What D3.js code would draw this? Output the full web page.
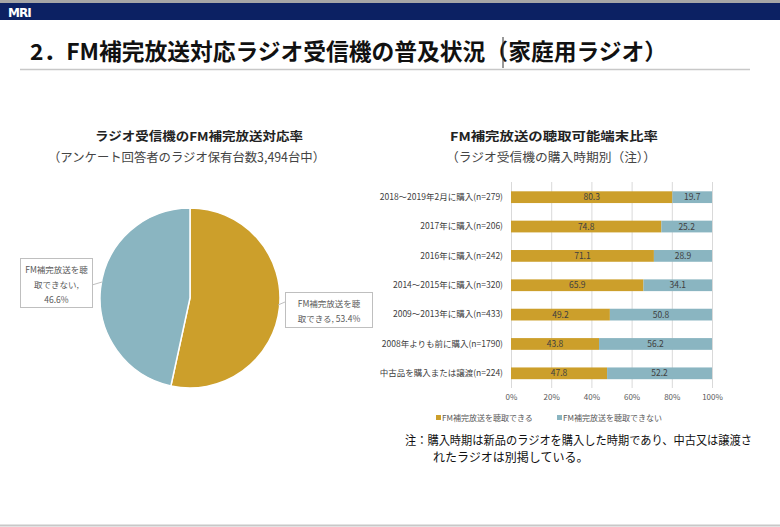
<!DOCTYPE html>
<html>
<head>
<meta charset="utf-8">
<script src="https://cdn.jsdelivr.net/npm/d3@7"></script>
<style>
  body { margin: 0; background: #fff; }
  svg { display: block; font-family: "Noto Sans CJK JP", "Noto Sans", sans-serif; }
</style>
</head>
<body>
<div id="chart"></div>
<script>
// pie data
var pieLabels = ["FM補完放送を聴取できる", "FM補完放送を聴取できない"];
var pieValues = [53.4, 46.6];

// bar data
var categories = [
  "2018～2019年2月に購入(n=279)",
  "2017年に購入(n=206)",
  "2016年に購入(n=242)",
  "2014～2015年に購入(n=320)",
  "2009～2013年に購入(n=433)",
  "2008年よりも前に購入(n=1790)",
  "中古品を購入または譲渡(n=224)"
];
var canListen = [80.3, 74.8, 71.1, 65.9, 49.2, 43.8, 47.8];
var cannotListen = [19.7, 25.2, 28.9, 34.1, 50.8, 56.2, 52.2];
var xTicks = [0, 20, 40, 60, 80, 100];

var gold = "#cc9f2b", blue = "#8ab5c1";

var svg = d3.select("#chart").append("svg")
    .attr("width", 780)
    .attr("height", 527);

// header bars
svg.append("rect").attr("x", 0).attr("y", 0).attr("width", 780).attr("height", 3).attr("fill", "#a6a6a6");
svg.append("rect").attr("x", 0).attr("y", 3).attr("width", 780).attr("height", 17).attr("fill", "#0c2163");
svg.append("text").attr("x", 8).attr("y", 17)
    .attr("font-family", "DejaVu Sans").attr("font-weight", "bold").attr("font-size", 12)
    .attr("fill", "#fff").attr("letter-spacing", -1).text("MRI");

// title
svg.append("text").attr("x", 30).attr("y", 60)
    .attr("font-size", 22.5).attr("font-weight", "bold").attr("fill", "#111")
    .attr("textLength", 637).attr("lengthAdjust", "spacingAndGlyphs")
    .text("2．FM補完放送対応ラジオ受信機の普及状況（家庭用ラジオ）");
svg.append("line").attr("x1", 503).attr("x2", 503).attr("y1", 37).attr("y2", 68)
    .attr("stroke", "#333").attr("stroke-width", 1);
svg.append("line").attr("x1", 20).attr("x2", 750).attr("y1", 69.5).attr("y2", 69.5)
    .attr("stroke", "#c8c8c8").attr("stroke-width", 1.5);
svg.append("line").attr("x1", 0).attr("x2", 780).attr("y1", 525.5).attr("y2", 525.5)
    .attr("stroke", "#c8c8c8").attr("stroke-width", 2);

// ---- pie ----
svg.append("text").attr("x", 95).attr("y", 141)
    .attr("font-size", 12).attr("font-weight", "bold").attr("fill", "#222")
    .attr("textLength", 208).attr("lengthAdjust", "spacingAndGlyphs")
    .text("ラジオ受信機のFM補完放送対応率");
svg.append("text").attr("x", 48).attr("y", 162)
    .attr("font-size", 12.5).attr("fill", "#444")
    .attr("textLength", 277).attr("lengthAdjust", "spacingAndGlyphs")
    .text("（アンケート回答者のラジオ保有台数3,494台中）");

var cx = 190, cy = 298, r = 90;
var pie = d3.pie().sort(null)(pieValues);
var arc = d3.arc().innerRadius(0).outerRadius(r);
var pg = svg.append("g").attr("transform", "translate(" + cx + "," + cy + ")");
pg.selectAll("path").data(pie).enter().append("path")
    .attr("d", arc)
    .attr("fill", function(d, i) { return i === 0 ? gold : blue; })
    .attr("stroke", "#fff").attr("stroke-width", 1.5);

function callout(x, y, w, h, lines, px, py, qx, qy) {
  svg.append("line").attr("x1", px).attr("y1", py).attr("x2", qx).attr("y2", qy)
      .attr("stroke", "#bfbfbf").attr("stroke-width", 1);
  svg.append("rect").attr("x", x).attr("y", y).attr("width", w).attr("height", h)
      .attr("fill", "#fff").attr("stroke", "#bfbfbf").attr("stroke-width", 1);
  lines.forEach(function(t, i) {
    svg.append("text").attr("x", x + w / 2).attr("y", y + 14 + i * 15)
        .attr("text-anchor", "middle").attr("font-size", 8.5).attr("fill", "#595959").text(t);
  });
}
callout(20.5, 258.5, 72, 49, ["FM補完放送を聴", "取できない,", pieValues[1].toFixed(1) + "%"], 92, 285, 102, 282);
callout(285.5, 292.5, 87, 35, ["FM補完放送を聴", "取できる, " + pieValues[0].toFixed(1) + "%"], 285, 302, 278, 305);

// ---- bar chart ----
svg.append("text").attr("x", 450).attr("y", 141)
    .attr("font-size", 12).attr("font-weight", "bold").attr("fill", "#222")
    .attr("textLength", 208).attr("lengthAdjust", "spacingAndGlyphs")
    .text("FM補完放送の聴取可能端末比率");
svg.append("text").attr("x", 446).attr("y", 162)
    .attr("font-size", 12.5).attr("fill", "#444")
    .attr("textLength", 210).attr("lengthAdjust", "spacingAndGlyphs")
    .text("（ラジオ受信機の購入時期別（注））");

var x = d3.scaleLinear().domain([0, 100]).range([511, 712]);
var y = d3.scaleBand().domain(categories).range([182.5, 388]).paddingInner(0.6).paddingOuter(0.3);

svg.append("g").selectAll("line").data(xTicks).enter().append("line")
    .attr("x1", function(d) { return x(d) + 0.5; }).attr("x2", function(d) { return x(d) + 0.5; })
    .attr("y1", 182).attr("y2", 388)
    .attr("stroke", "#d9d9d9").attr("stroke-width", 1);

var xAxis = d3.axisBottom(x).tickValues(xTicks).tickSize(0).tickPadding(0)
    .tickFormat(function(d) { return d + "%"; });
var ax = svg.append("g").attr("transform", "translate(0,394)").call(xAxis);
ax.select(".domain").remove();
ax.selectAll("text").attr("font-size", 8).attr("fill", "#595959")
    .attr("font-family", "\"Noto Sans CJK JP\", sans-serif");

var yAxis = d3.axisLeft(y).tickSize(0).tickPadding(8);
var ay = svg.append("g").attr("transform", "translate(511,0)").call(yAxis);
ay.select(".domain").remove();
ay.selectAll("text").attr("font-size", 8.5).attr("fill", "#404040")
    .attr("font-family", "\"Noto Sans CJK JP\", sans-serif");

var rows = categories.map(function(c, i) { return {c: c, a: canListen[i], b: cannotListen[i]}; });
var g = svg.append("g");
g.selectAll(".a").data(rows).enter().append("rect")
    .attr("x", x(0)).attr("y", function(d) { return y(d.c); })
    .attr("width", function(d) { return x(d.a) - x(0); })
    .attr("height", y.bandwidth()).attr("fill", gold);
g.selectAll(".b").data(rows).enter().append("rect")
    .attr("x", function(d) { return x(d.a); }).attr("y", function(d) { return y(d.c); })
    .attr("width", function(d) { return x(d.a + d.b) - x(d.a); })
    .attr("height", y.bandwidth()).attr("fill", blue);
g.selectAll(".ta").data(rows).enter().append("text")
    .attr("x", function(d) { return (x(0) + x(d.a)) / 2; })
    .attr("y", function(d) { return y(d.c) + y.bandwidth() / 2 + 3; })
    .attr("text-anchor", "middle").attr("font-size", 8.5).attr("fill", "#404040")
    .text(function(d) { return d.a.toFixed(1); });
g.selectAll(".tb").data(rows).enter().append("text")
    .attr("x", function(d) { return (x(d.a) + x(d.a + d.b)) / 2; })
    .attr("y", function(d) { return y(d.c) + y.bandwidth() / 2 + 3; })
    .attr("text-anchor", "middle").attr("font-size", 8.5).attr("fill", "#404040")
    .text(function(d) { return d.b.toFixed(1); });

// legend
var legend = [{t: pieLabels[0], c: gold, x: 436}, {t: pieLabels[1], c: blue, x: 557}];
legend.forEach(function(l) {
  svg.append("rect").attr("x", l.x).attr("y", 415).attr("width", 5).attr("height", 5).attr("fill", l.c);
  svg.append("text").attr("x", l.x + 6).attr("y", 421).attr("font-size", 8).attr("fill", "#595959").text(l.t);
});

// note
svg.append("text").attr("x", 405).attr("y", 445).attr("font-size", 12).attr("fill", "#111")
    .attr("textLength", 347).attr("lengthAdjust", "spacingAndGlyphs")
    .text("注：購入時期は新品のラジオを購入した時期であり、中古又は譲渡さ");
svg.append("text").attr("x", 433).attr("y", 462).attr("font-size", 12).attr("fill", "#111")
    .text("れたラジオは別掲している。");
</script>
</body>
</html>
